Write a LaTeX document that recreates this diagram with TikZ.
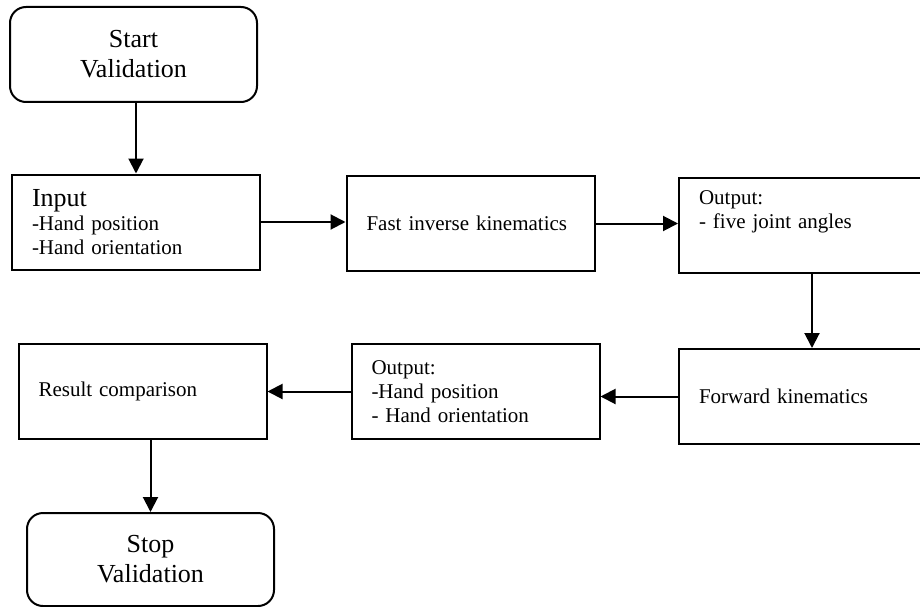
\documentclass[tikz,border=0pt]{standalone}
\usepackage{fontspec}
\setmainfont{Liberation Serif}
\usetikzlibrary{arrows.meta}
\begin{document}
\begin{tikzpicture}[x=1pt, y=-1pt,
    term/.style={draw, line width=2pt, rounded corners=16pt, minimum width=247pt,
        minimum height=95pt, align=center, font=\fontsize{26}{30}\selectfont},
    box/.style={draw, line width=2pt, minimum height=95pt, text width=208pt,
        inner xsep=20pt, inner ysep=0pt, align=left, font=\fontsize{21}{24}\selectfont},
    arr/.style={line width=2pt, -{Triangle[length=15pt,width=15pt]}}]
    \useasboundingbox (0,0) rectangle (920,607);
    \node[term] (start) at (133.5,54.5) {Start\\Validation};
    \node[box] (input) at (136,222)
        {{\fontsize{26}{30}\selectfont Input}\\-Hand position\\-Hand orientation};
    \node[box] (fast) at (470.5,223.5) {Fast inverse kinematics};
    \node[box] (out1) at (803,225.5) {Output:\\- five joint angles\\\strut};
    \node[box] (fwd) at (803,396.5) {Forward kinematics};
    \node[box] (out2) at (475.5,391.5) {Output:\\-Hand position\\- Hand orientation};
    \node[box] (result) at (142.5,391.5) {Result comparison};
    \node[term, minimum height=93pt] (stop) at (150.5,559.5) {Stop\\Validation};
    \draw[arr] (start.south -| input.north) -- (input.north);
    \draw[arr] (input.east) -- (input.east -| fast.west);
    \draw[arr] (fast.east) -- (fast.east -| out1.west);
    \draw[arr] ([xshift=9pt]out1.south) -- ([xshift=9pt]out1.south |- fwd.north);
    \draw[arr] (fwd.west) -- (fwd.west -| out2.east);
    \draw[arr] (out2.west) -- (out2.west -| result.east);
    \draw[arr] (stop.north |- result.south) -- (stop.north);
\end{tikzpicture}
\end{document}
